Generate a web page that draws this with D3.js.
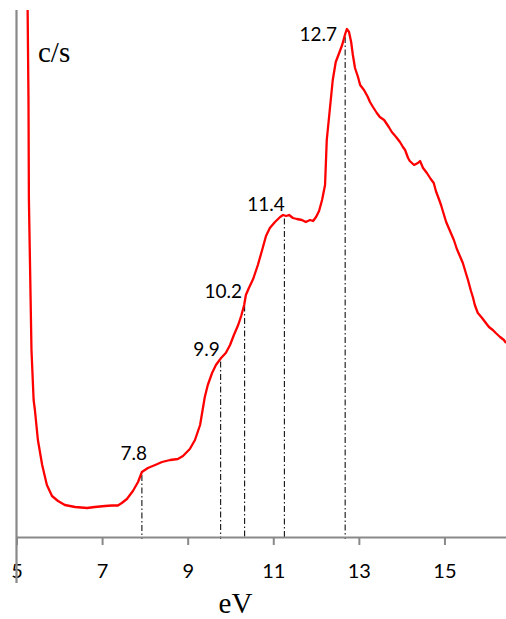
<!DOCTYPE html>
<html>
<head>
<meta charset="utf-8">
<script src="https://cdn.jsdelivr.net/npm/d3@7"></script>
<style>
  html, body { margin: 0; padding: 0; background: #fff; }
  svg { display: block; }
  .serif { font-family: "Liberation Serif", "Times New Roman", Times, serif; }
  .sans { font-family: Lato, "Open Sans", sans-serif; }
</style>
</head>
<body>
<svg id="chart" width="506" height="619"></svg>
<script>
// ---- data ----
const energy = [
  5.25, 5.26, 5.28, 5.29, 5.33, 5.35, 5.38, 5.40, 5.43, 5.50,
  5.60, 5.71, 5.83, 5.97, 6.13, 6.37, 6.65, 6.83, 7.07, 7.23,
  7.37, 7.46, 7.58, 7.72, 7.84, 7.93, 8.07, 8.24, 8.40, 8.59,
  8.77, 8.89, 9.05, 9.17, 9.29, 9.40, 9.47, 9.57, 9.66, 9.78,
  9.89, 9.99, 10.08, 10.18, 10.25, 10.32, 10.36, 10.43, 10.53, 10.64,
  10.74, 10.83, 10.92, 11.04, 11.16, 11.23, 11.30, 11.37, 11.46, 11.55,
  11.67, 11.76, 11.86, 11.93, 12.00, 12.07, 12.14, 12.21, 12.25, 12.32,
  12.39, 12.46, 12.54, 12.61, 12.68, 12.72, 12.77, 12.82, 12.86, 12.91,
  12.98, 13.03, 13.12, 13.21, 13.26, 13.33, 13.42, 13.49, 13.59, 13.70,
  13.77, 13.87, 13.96, 14.03, 14.08, 14.15, 14.19, 14.29, 14.38, 14.43,
  14.50, 14.59, 14.68, 14.75, 14.80, 14.87, 14.92, 14.99, 15.04, 15.11,
  15.18, 15.22, 15.29, 15.36, 15.43, 15.50, 15.55, 15.62, 15.67, 15.71,
  15.78, 15.88, 15.95, 16.04, 16.13, 16.20, 16.30, 16.39, 16.44
];
const counts = [
  637, 527, 437, 337, 237, 187, 157, 137, 127, 97,
  72, 52, 41, 36, 32, 30, 29, 30, 31, 31.5,
  31.5, 34, 38, 46, 55, 65, 69, 72, 75, 77,
  78, 81, 88, 97, 112, 140, 152, 164, 172, 179,
  184, 192, 202, 212, 221, 232, 242, 249, 258, 272,
  287, 301, 309, 315, 320, 322, 321, 322, 319, 318,
  317, 315, 317, 316, 320, 326, 337, 352, 397, 427,
  457, 475, 484, 492, 503, 508, 505, 495, 482, 469,
  460, 452, 447, 440, 435, 430, 424, 420, 417, 410,
  405, 400, 395, 390, 387, 379, 376, 372, 374, 376,
  369, 364, 358, 354, 346, 338, 332, 322, 315, 308,
  301, 297, 288, 281, 274, 264, 257, 246, 239, 232,
  224, 219, 215, 210, 207, 204, 200, 197, 194
];
const xTicks = [5, 7, 9, 11, 13, 15];
const xTickLabels = ["5", "7", "9", "11", "13", "15"];
const markerEV = [7.93, 9.77, 10.33, 11.26, 12.68];
const markerLabels = ["7.8", "9.9", "10.2", "11.4", "12.7"];
const labelEV = [8.05, 9.75, 10.27, 11.27, 12.49];
const labelCount = [77, 181, 239, 326, 496];
const xTitle = "eV";
const yTitle = "c/s";

// ---- layout ----
const plot = { left: 16.5, right: 506.5, top: 10, bottom: 537 };

const svg = d3.select("#chart");
const x = d3.scaleLinear().domain([5, 16.45]).range([plot.left, plot.right]);
const y = d3.scaleLinear().domain([0, 527]).range([plot.bottom, plot.top]);

const data = energy.map((e, i) => ({ e, c: counts[i] }));

svg.append("defs").append("clipPath").attr("id", "clip")
  .append("rect")
  .attr("x", plot.left).attr("y", plot.top)
  .attr("width", plot.right - plot.left).attr("height", plot.bottom - plot.top);

function valueAt(e) {
  const i = d3.bisector(d => d.e).left(data, e);
  if (i <= 0) return data[0].c;
  if (i >= data.length) return data[data.length - 1].c;
  const a = data[i - 1], b = data[i];
  return a.c + (b.c - a.c) * (e - a.e) / (b.e - a.e);
}

// marker dash-dot lines
svg.append("g").selectAll("line").data(markerEV).join("line")
  .attr("x1", d => x(d)).attr("x2", d => x(d))
  .attr("y1", d => y(valueAt(d)) + 3)
  .attr("y2", y(0) + 2)
  .attr("stroke", "#111")
  .attr("stroke-width", 1.1)
  .attr("stroke-dasharray", "6,2.5,1.5,2.5");

// x axis
const axisColor = "#898989";
const xAxis = d3.axisBottom(x).tickValues(xTicks)
  .tickFormat((d, i) => xTickLabels[i]).tickSize(8).tickSizeOuter(0);
const gx = svg.append("g").attr("transform", `translate(0,${y(0)})`).call(xAxis);
gx.attr("font-family", null).attr("font-size", null);
gx.select(".domain").attr("stroke", axisColor).attr("stroke-width", 2.2);
gx.selectAll(".tick line").attr("stroke", axisColor).attr("stroke-width", 2);
gx.selectAll(".tick text")
  .attr("y", 41).attr("dy", 0)
  .attr("fill", "#000")
  .attr("class", "sans")
  .style("font-size", "20px");

// y axis line (extends below the x axis)
svg.append("line")
  .attr("x1", x(5)).attr("x2", x(5))
  .attr("y1", plot.top).attr("y2", y(0) + 46)
  .attr("stroke", axisColor).attr("stroke-width", 2.2);

// curve
const line = d3.line().x(d => x(d.e)).y(d => y(d.c));
svg.append("path")
  .datum(data)
  .attr("clip-path", "url(#clip)")
  .attr("fill", "none")
  .attr("stroke", "#ff0000")
  .attr("stroke-width", 2.3)
  .attr("stroke-linejoin", "round")
  .attr("d", line);

// marker labels
svg.append("g").selectAll("text").data(markerLabels).join("text")
  .attr("class", "sans")
  .attr("x", (d, i) => x(labelEV[i]))
  .attr("y", (d, i) => y(labelCount[i]))
  .attr("text-anchor", "end")
  .style("font-size", "19px")
  .attr("fill", "#000")
  .text(d => d);

// axis titles
svg.append("text")
  .attr("class", "serif")
  .attr("x", 235.5).attr("y", 613)
  .attr("text-anchor", "middle")
  .style("font-size", "29px")
  .text(xTitle);

svg.append("text")
  .attr("class", "serif")
  .attr("x", 38).attr("y", 62)
  .style("font-size", "29px")
  .text(yTitle);
</script>
</body>
</html>
